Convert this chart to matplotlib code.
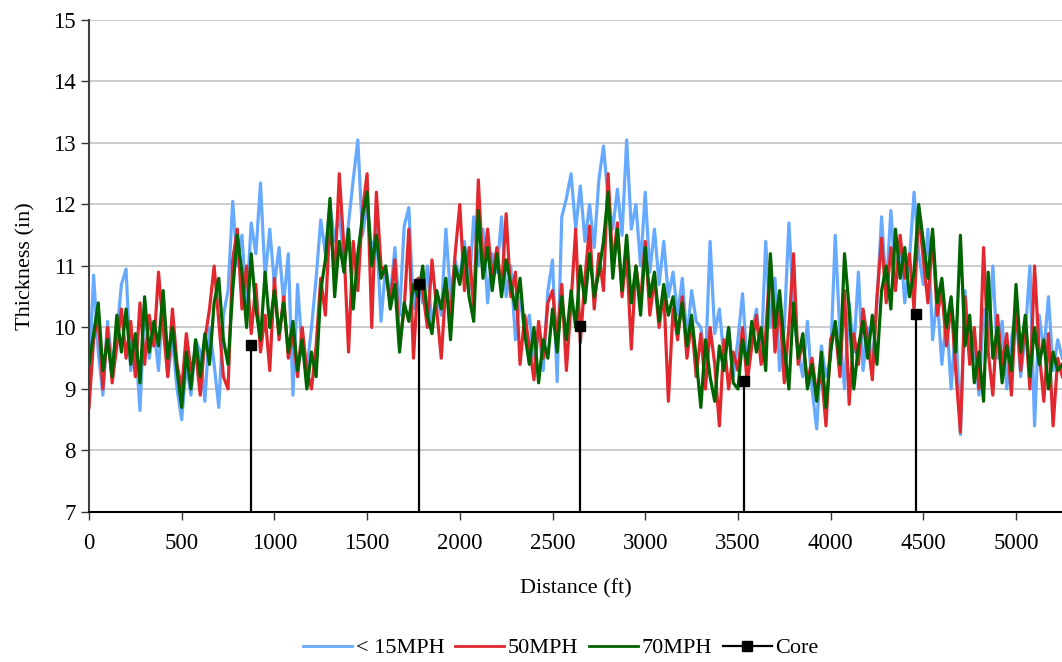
'''Pavement thickness along distance for three survey speeds plus cores.'''
import numpy as np
import matplotlib
matplotlib.use('Agg')
import matplotlib.pyplot as plt
from matplotlib.lines import Line2D

plt.rcParams['font.family'] = ['Liberation Serif', 'DejaVu Serif']

STEP = 25  # ft between readings

# one row per 100 ft
slow_15mph = [
    9.2, 10.85, 9.6, 8.9,
    10.1, 9.4, 9.9, 10.7,
    10.95, 9.3, 9.8, 8.65,
    10.4, 9.5, 10.0, 9.3,
    10.5, 9.2, 9.8, 9.0,
    8.5, 9.4, 8.9, 9.8,
    9.6, 8.8, 10.0, 9.4,
    8.7, 10.2, 10.6, 12.05,
    11.0, 11.5, 10.4, 11.7,
    11.2, 12.35, 10.8, 11.6,
    10.7, 11.3, 10.4, 11.2,
    8.9, 10.7, 9.6, 9.3,
    10.0, 10.8, 11.75, 11.2,
    12.0, 11.4, 11.9, 11.0,
    11.7, 12.4, 13.05, 11.5,
    12.0, 11.2, 11.6, 10.1,
    11.0, 10.5, 11.3, 10.2,
    11.65, 11.95, 10.3, 10.8,
    10.4, 11.0, 10.0, 10.6,
    10.2, 11.6, 10.5, 11.1,
    10.8, 11.4, 10.6, 11.8,
    11.0, 11.6, 10.4, 11.2,
    10.9, 11.8, 10.5, 11.0,
    9.8, 10.5, 9.9, 10.2,
    9.5, 10.0, 9.3, 10.6,
    11.1, 9.12, 11.8, 12.1,
    12.5, 11.6, 12.3, 11.4,
    12.0, 11.3, 12.4, 12.95,
    12.1, 11.6, 12.25, 11.5,
    13.05, 11.6, 12.0, 11.0,
    12.2, 10.9, 11.6, 10.7,
    11.4, 10.5, 10.9, 10.2,
    10.8, 9.8, 10.6, 10.1,
    10.0, 9.4, 11.4, 9.9,
    10.3, 9.5, 10.0, 9.2,
    9.8, 10.55, 9.4, 9.9,
    10.3, 9.5, 11.4, 10.0,
    10.8, 9.3, 10.0, 11.7,
    10.3, 9.6, 9.2, 10.1,
    9.0, 8.35, 9.7, 9.2,
    9.5, 11.5, 9.9, 9.0,
    10.4, 9.6, 10.9, 9.3,
    10.0, 9.4, 10.4, 11.8,
    10.6, 11.9, 10.8, 11.4,
    10.4, 11.1, 12.2, 11.2,
    10.7, 11.6, 9.8, 10.5,
    9.4, 10.2, 9.0, 10.1,
    8.26, 10.6, 9.5, 9.8,
    8.9, 10.3, 9.7, 11.0,
    9.5, 10.1, 9.0, 9.8,
    10.3, 9.2, 9.9, 11.0,
    8.4, 10.2, 9.6, 10.5,
    9.3, 9.8, 9.5,
]

mph_50 = [
    8.7, 9.8, 10.2, 9.0,
    10.0, 9.1, 9.7, 10.3,
    9.5, 10.1, 9.2, 10.4,
    9.4, 10.2, 9.7, 10.9,
    10.0, 9.2, 10.3, 9.4,
    9.0, 9.9, 9.3, 9.6,
    8.9, 9.8, 10.3, 11.0,
    10.1, 9.2, 9.0, 11.1,
    11.6, 10.3, 11.0, 9.9,
    10.7, 9.6, 10.2, 9.3,
    10.8, 9.8, 10.5, 9.5,
    9.9, 9.2, 10.0, 9.3,
    9.0, 9.7, 10.8, 10.2,
    11.8, 10.8, 12.5, 11.3,
    9.6, 11.4, 10.6, 11.9,
    12.5, 10.0, 12.2, 11.0,
    10.9, 10.4, 11.1, 9.7,
    10.3, 11.6, 9.5, 10.8,
    10.6, 10.0, 11.1, 10.3,
    9.5, 10.7, 10.2, 11.2,
    12.0, 10.6, 11.3, 10.3,
    12.4, 10.9, 11.6, 10.8,
    11.3, 10.6, 11.85, 10.5,
    10.9, 9.4, 10.2, 9.7,
    9.15, 10.1, 9.5, 10.4,
    10.6, 9.8, 10.7, 9.3,
    10.4, 11.6, 9.75, 10.8,
    11.65, 10.3, 11.2, 10.6,
    12.5, 11.0, 11.7, 10.5,
    11.2, 9.65, 11.0, 10.4,
    11.4, 10.2, 10.8, 10.0,
    10.6, 8.8, 10.3, 9.8,
    10.5, 9.5, 10.1, 9.2,
    9.9, 9.0, 10.0, 9.4,
    8.4, 9.8, 9.0, 9.6,
    9.3, 10.0, 9.1, 9.7,
    10.2, 9.4, 9.9, 11.1,
    9.6, 10.4, 9.1, 10.0,
    11.2, 9.4, 9.8, 9.1,
    9.5, 8.9, 9.3, 8.4,
    9.8, 10.0, 9.2, 10.6,
    8.75, 9.9, 9.4, 10.3,
    9.8, 9.15, 10.5, 11.45,
    10.4, 11.3, 10.6, 11.5,
    10.8, 11.2, 10.3, 11.9,
    11.1, 10.4, 11.5, 10.2,
    10.6, 9.7, 10.4, 9.3,
    8.3, 10.5, 9.4, 10.0,
    9.0, 11.3, 9.6, 8.9,
    10.2, 9.4, 9.9, 8.9,
    10.4, 9.3, 10.1, 9.0,
    11.0, 9.6, 8.8, 9.9,
    8.4, 9.5, 9.2,
]

mph_70 = [
    9.4, 9.9, 10.4, 9.3,
    9.8, 9.2, 10.2, 9.6,
    10.3, 9.4, 9.9, 9.1,
    10.5, 9.6, 10.1, 9.7,
    10.6, 9.5, 10.0, 9.3,
    8.7, 9.6, 9.0, 9.8,
    9.2, 9.9, 9.4, 10.4,
    10.8, 9.8, 9.4, 10.6,
    11.5, 10.9, 10.0, 11.2,
    10.3, 9.8, 10.9, 10.0,
    10.6, 9.9, 10.4, 9.6,
    10.1, 9.3, 9.8, 9.0,
    9.6, 9.2, 10.6, 11.1,
    12.1, 10.5, 11.4, 10.9,
    11.6, 10.3, 11.2, 11.8,
    12.2, 11.0, 11.5, 10.8,
    11.0, 10.3, 10.7, 9.6,
    10.4, 10.1, 10.7, 10.5,
    11.0, 10.2, 9.9, 10.6,
    10.3, 10.8, 9.8, 11.0,
    10.7, 11.3, 10.5, 10.1,
    11.9, 10.8, 11.3, 10.6,
    11.2, 10.5, 11.1, 10.7,
    10.3, 10.8, 9.9, 9.4,
    10.0, 9.1, 9.8, 9.5,
    10.3, 9.6, 10.5, 9.8,
    10.6, 10.0, 11.0, 10.4,
    11.2, 10.5, 10.9, 11.4,
    12.2, 10.8, 11.6, 10.6,
    11.5, 10.4, 11.0, 10.2,
    11.3, 10.5, 10.9, 10.1,
    10.7, 10.2, 10.5, 9.9,
    10.4, 9.7, 10.2, 9.5,
    8.7, 9.8, 9.2, 8.8,
    9.7, 9.3, 10.0, 9.1,
    9.0, 9.8, 9.4, 10.1,
    9.6, 10.0, 9.3, 11.2,
    10.0, 10.6, 9.7, 9.0,
    10.4, 9.5, 9.9, 9.0,
    9.4, 8.8, 9.6, 8.7,
    9.6, 10.1, 9.4, 11.2,
    10.3, 9.0, 9.7, 10.1,
    9.5, 10.2, 9.4, 10.6,
    11.0, 10.3, 11.6, 10.8,
    11.3, 10.5, 10.9, 12.0,
    11.4, 10.8, 11.6, 10.4,
    10.8, 10.0, 10.5, 9.6,
    11.5, 9.7, 10.2, 9.1,
    9.6, 8.8, 10.9, 9.5,
    10.0, 9.1, 9.7, 9.3,
    10.7, 9.6, 10.2, 9.2,
    10.0, 9.4, 9.8, 9.0,
    9.6, 9.3, 9.4,
]

core_dist = [875, 1780, 2650, 3535, 4462]
core_thick = [9.72, 10.71, 10.02, 9.13, 10.22]

labels = ['< 15MPH', '50MPH', '70MPH', 'Core']
colors = ['#66aaff', '#e0282e', '#006400']


def main():
    '''Draw the chart.'''
    fig = plt.figure(figsize=(10.62, 6.62), dpi=100)
    ax = fig.add_axes([0.0838, 0.2266, 0.9162, 0.7432])

    for vals, col in zip([slow_15mph, mph_50, mph_70], colors):
        dist = np.arange(len(vals)) * STEP
        ax.plot(dist, vals, color=col, lw=2.3)

    ax.vlines(core_dist, 7, core_thick, color='black', lw=1.6, zorder=4)
    ax.plot(core_dist, core_thick, 's', color='black', ms=7.5, zorder=5)

    ax.set_xlim(0, 5248)
    ax.set_ylim(7, 15)
    ax.set_xticks(np.arange(0, 5001, 500))
    ax.set_yticks(np.arange(7, 16, 1))
    ax.grid(axis='y', color='#c8c8c8', lw=1.3)
    ax.set_axisbelow(True)
    ax.tick_params(direction='out', length=6, width=1, labelsize=16.5,
                   colors='#333333', labelcolor='black')
    ax.tick_params(axis='x', pad=9)
    for side in ['top', 'right']:
        ax.spines[side].set_visible(False)
    ax.spines['left'].set_color('#404040')
    ax.spines['left'].set_linewidth(1.5)
    ax.spines['bottom'].set_color('black')
    ax.spines['bottom'].set_linewidth(1.5)

    ax.set_xlabel('Distance (ft)', fontsize=16, labelpad=18)
    ax.set_ylabel('Thickness (in)', fontsize=16, labelpad=13)

    handles = [Line2D([], [], color=c, lw=2) for c in colors]
    handles.append(Line2D([], [], color='black', lw=1.6, marker='s', ms=7))
    fig.legend(handles, labels, loc='center', bbox_to_anchor=(0.528, 0.021),
               ncol=4, frameon=False, fontsize=16, handlelength=2.2,
               handletextpad=0.15, columnspacing=0.5)

    fig.savefig('out.png', dpi=100)


if __name__ == '__main__':
    main()
